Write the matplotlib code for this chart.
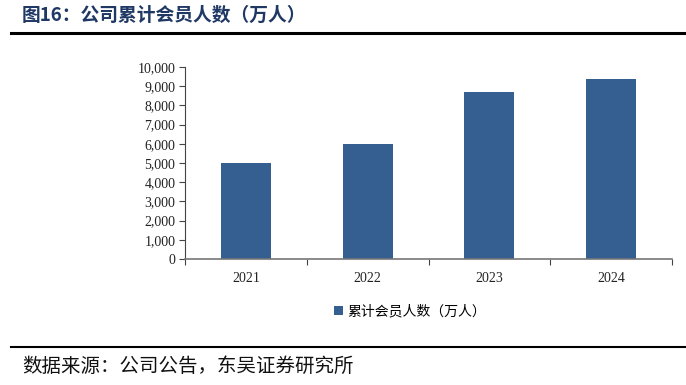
import matplotlib
matplotlib.use("Agg")
import matplotlib.pyplot as plt
from matplotlib.ticker import FuncFormatter, FixedLocator
from matplotlib.lines import Line2D

years = ["2021", "2022", "2023", "2024"]
members = [5000, 6000, 8700, 9400]
series_name = "累计会员人数（万人）"
title = "图16：公司累计会员人数（万人）"
source = "数据来源：公司公告，东吴证券研究所"

cjk = ["Noto Sans CJK SC", "DejaVu Sans"]
serif = ["Liberation Serif", "DejaVu Serif"]

fig = plt.figure(figsize=(6.86, 3.85), dpi=100)
ax = fig.add_axes([185/686, 1-259/385, (672-185)/686, (259-67)/385])

x = list(range(len(years)))
bars = ax.bar(x, members, width=0.41, color="#365F91", label=series_name, zorder=2)

ax.set_ylim(0, 10000)
ax.set_xlim(-0.5, len(years)-0.5)
ax.set_yticks(range(0, 10001, 1000))
ax.yaxis.set_major_formatter(FuncFormatter(lambda v, p: f"{int(v):,}"))
ax.set_xticks(x)
ax.set_xticklabels(years)
ax.xaxis.set_minor_locator(FixedLocator([i + 0.5 for i in range(-1, len(years))]))
ax.tick_params(axis="x", which="major", length=0, pad=9)
ax.tick_params(axis="x", which="minor", length=4, width=0.8, color="#444444", direction="out")
ax.tick_params(axis="y", length=4, width=0.8, color="#444444", direction="out", pad=3)
for lab in ax.get_xticklabels() + ax.get_yticklabels():
    lab.set_fontfamily(serif)
    lab.set_fontsize(10)
    lab.set_color("#222222")
for s in ["top", "right"]:
    ax.spines[s].set_visible(False)
ax.spines["left"].set_color("#444444")
ax.spines["bottom"].set_color("#777777")
ax.spines["left"].set_linewidth(0.8)
ax.spines["bottom"].set_linewidth(1.2)

leg = fig.legend(handles=[bars], labels=[series_name], loc="center",
                 bbox_to_anchor=(410/686, 1-311/385), frameon=False,
                 handlelength=0.6, handleheight=0.6, handletextpad=0.3,
                 prop={"family": cjk, "size": 10})

fig.text(22/686, 1-15/385, title, fontsize=13.5, fontweight="bold", color="#1F3864",
         family=cjk, va="center", ha="left")
fig.add_artist(Line2D([11/686, 1.0], [1-33/385, 1-33/385], color="black", lw=2.2))
fig.add_artist(Line2D([11/686, 1.0], [1-347/385, 1-347/385], color="black", lw=1.5))
fig.text(22/686, 1-366/385, source, fontsize=14, color="#111111",
         family=cjk, va="center", ha="left")

fig.savefig("out.png", dpi=100)
